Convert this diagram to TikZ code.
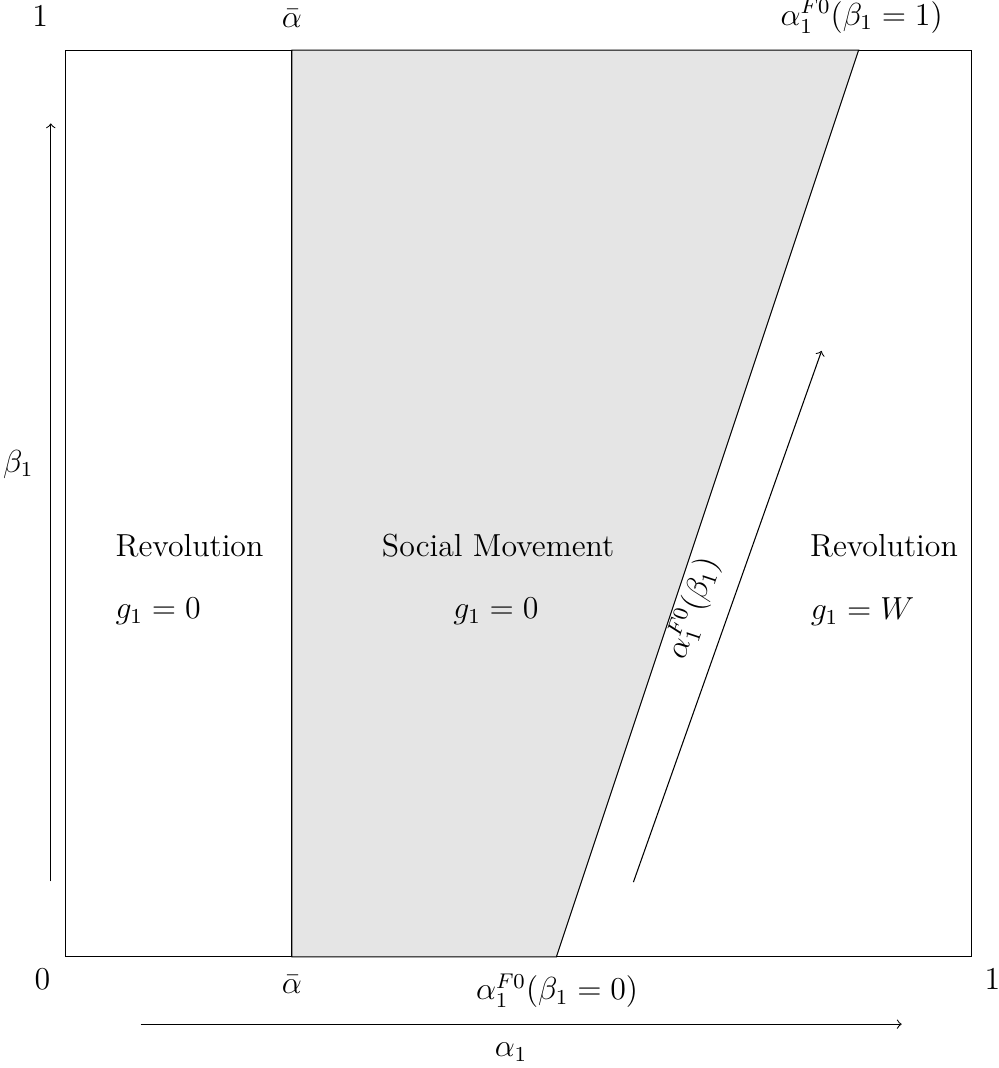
\documentclass[tikz,border=0pt]{standalone}
\begin{document}
\begin{tikzpicture}[font=\large,
  every node/.style={inner sep=0pt},
  arr/.style={->},
  region/.style={draw, fill=gray!20}]
\useasboundingbox (-0.862,-1.47) rectangle (12.345,12.663);
% corners and key points
\coordinate (BL) at (0,0);
\coordinate (TR) at (12,12);
\coordinate (ab) at (3,0);
\coordinate (at) at (3,12);
\coordinate (fb) at (6.5,0);
\coordinate (ft) at (10.5,12);
% box and shaded region
\draw (BL) rectangle (TR);
\path[region] (ab) -- (fb) -- (ft) -- (at) -- cycle;
\draw (ab) -- (at);
% corner labels
\node (one1) at (-0.33,12.45) {$1$};
\node (zero) at (-0.3,-0.3) {$0$};
\node (one2) at (12.27,-0.3) {$1$};
\node (abtop) at (3,12.42) {$\bar\alpha$};
\node (abbot) at (3,-0.36) {$\bar\alpha$};
\node (ftl) at (10.54,12.45) {$\alpha_1^{F0}(\beta_1=1)$};
\node (fbl) at (6.51,-0.45) {$\alpha_1^{F0}(\beta_1=0)$};
% axes arrows
\coordinate (xa1) at (1,-0.89);
\coordinate (xa2) at (11.07,-0.89);
\draw[arr] (xa1) -- (xa2);
\node (xl) at (5.9,-1.26) {$\alpha_1$};
\coordinate (ya1) at (-0.19,1);
\coordinate (ya2) at (-0.19,11.03);
\draw[arr] (ya1) -- (ya2);
\node (yl) at (-0.62,6.52) {$\beta_1$};
% diagonal arrow
\coordinate (da1) at (7.52,0.99);
\coordinate (da2) at (10.01,8.02);
\draw[arr] (da1) -- (da2);
\node[rotate=71.57] (fl) at (8.3,4.62) {$\alpha_1^{F0}(\beta_1)$};
% region labels
\node[anchor=west] (r1) at (0.66,5.44) {Revolution};
\node[anchor=west] (g1) at (0.66,4.57) {$g_1=0$};
\node (sm) at (5.73,5.44) {Social Movement};
\node (g2) at (5.7,4.57) {$g_1=0$};
\node[anchor=west] (r3) at (9.85,5.44) {Revolution};
\node[anchor=west] (g3) at (9.86,4.57) {$g_1=W$};
\end{tikzpicture}
\end{document}
